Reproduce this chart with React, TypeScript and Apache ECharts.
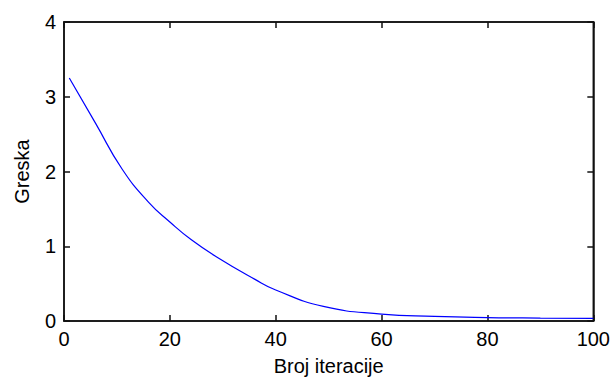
import React, { useEffect, useRef } from "react";
import * as echarts from "echarts";

// Iteration numbers and the error value at each of them
const iterations = [1, 6, 11, 16, 20, 24, 29, 36, 40, 49, 60, 70, 80, 90, 100];
const errors = [3.25, 2.64, 2.03, 1.587, 1.325, 1.09, 0.85, 0.56, 0.415, 0.195, 0.093, 0.062, 0.046, 0.039, 0.035];

const xTicks = [0, 20, 40, 60, 80, 100];
const yTicks = [0, 1, 2, 3, 4];

const FONT = "'Liberation Sans', Arial, sans-serif";
const INK = "#111111";

export default function App() {
  const ref = useRef<HTMLDivElement>(null);

  useEffect(() => {
    if (!ref.current) return;
    const chart = echarts.init(ref.current, null, { renderer: "svg" });
    const xMin = xTicks[0];
    const xMax = xTicks[xTicks.length - 1];
    const yMin = yTicks[0];
    const yMax = yTicks[yTicks.length - 1];
    chart.setOption({
      animation: false,
      backgroundColor: "#fff",
      grid: {
        left: 64,
        right: 19,
        top: 22,
        bottom: 58,
        show: true,
        borderColor: INK,
        borderWidth: 1.5,
      },
      xAxis: [
        {
          type: "value",
          min: xMin,
          max: xMax,
          interval: 20,
          position: "bottom",
          axisLine: { show: true, onZero: false, lineStyle: { color: INK, width: 1.5 } },
          axisTick: { show: true, inside: true, length: 6, lineStyle: { color: INK, width: 1.5 } },
          splitLine: { show: false },
          name: "Broj iteracije",
          nameLocation: "middle",
          nameGap: 35,
          nameTextStyle: { color: "#000", fontSize: 20, fontFamily: FONT },
          axisLabel: { color: "#000", fontSize: 20, fontFamily: FONT, margin: 8 },
        },
        {
          type: "value",
          min: xMin,
          max: xMax,
          interval: 20,
          position: "top",
          axisLine: { show: true, onZero: false, lineStyle: { color: INK, width: 1.5 } },
          axisTick: { show: true, inside: true, length: 6, lineStyle: { color: INK, width: 1.5 } },
          splitLine: { show: false },
          axisLabel: { show: false },
        },
      ],
      yAxis: [
        {
          type: "value",
          min: yMin,
          max: yMax,
          interval: 1,
          position: "left",
          axisLine: { show: true, onZero: false, lineStyle: { color: INK, width: 1.5 } },
          axisTick: { show: true, inside: true, length: 6, lineStyle: { color: INK, width: 1.5 } },
          splitLine: { show: false },
          name: "Greska",
          nameLocation: "middle",
          nameGap: 32,
          nameTextStyle: { color: "#000", fontSize: 20, fontFamily: FONT },
          axisLabel: { color: "#000", fontSize: 20, fontFamily: FONT, margin: 8 },
        },
        {
          type: "value",
          min: yMin,
          max: yMax,
          interval: 1,
          position: "right",
          axisLine: { show: true, onZero: false, lineStyle: { color: INK, width: 1.5 } },
          axisTick: { show: true, inside: true, length: 6, lineStyle: { color: INK, width: 1.5 } },
          splitLine: { show: false },
          axisLabel: { show: false },
        },
      ],
      series: [
        {
          type: "line",
          data: iterations.map((it, i) => [it, errors[i]]),
          smooth: 0.5,
          showSymbol: false,
          lineStyle: { color: "#0000ff", width: 1.2 },
        },
      ],
    });
    return () => chart.dispose();
  }, []);

  return <div ref={ref} style={{ width: 613, height: 381, position: "absolute", left: 0, top: 0 }} />;
}
